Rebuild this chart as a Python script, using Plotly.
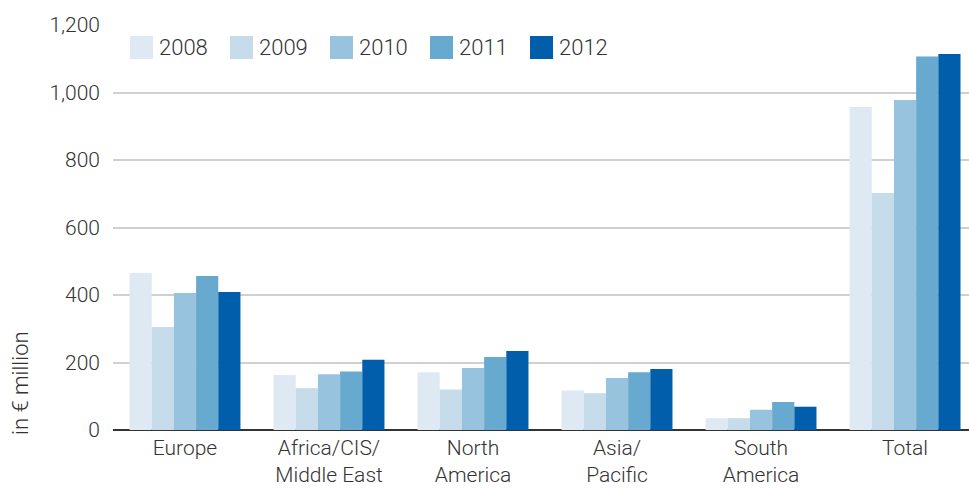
import plotly.graph_objects as go

# Regions on the x axis (line breaks as shown under the bars)
regions = ["Europe", "Africa/CIS/<br>Middle East", "North<br>America",
           "Asia/<br>Pacific", "South<br>America", "Total"]

years = ["2008", "2009", "2010", "2011", "2012"]

# Values in € million, one list per year, in region order
v2008 = [465, 163, 171, 117, 35, 957]
v2009 = [305, 124, 120, 109, 35, 702]
v2010 = [406, 165, 184, 154, 60, 978]
v2011 = [456, 173, 216, 171, 83, 1107]
v2012 = [409, 208, 234, 181, 69, 1114]

colors = ["#dfe9f3", "#c6dcea", "#98c3de", "#68a9cf", "#005eaa"]

y_ticks = [0, 200, 400, 600, 800, 1000, 1200]
y_tick_text = ["0", "200", "400", "600", "800", "1,000", "1,200"]

FONT = "Roboto"
TEXT = "#333333"
SIZE = 21

fig = go.Figure()
for year, vals, col in zip(years, [v2008, v2009, v2010, v2011, v2012], colors):
    fig.add_trace(go.Bar(x=regions, y=vals, name=year, marker_color=col,
                         marker_line_width=0, showlegend=False))

# Legend: square swatches with year labels in a row above the bars
for i, (year, col) in enumerate(zip(years, colors)):
    x0 = 130 + i * 100
    fig.add_shape(type="rect", xref="paper", yref="paper",
                  x0=(x0 - 113) / 856, x1=(x0 + 23 - 113) / 856,
                  y0=(430 - 59) / 405, y1=(430 - 36) / 405,
                  fillcolor=col, line_width=0, layer="above")
    fig.add_annotation(xref="paper", yref="paper",
                       x=(x0 + 27 - 113) / 856, y=(430 - 47.5) / 405,
                       xanchor="left", yanchor="middle", text=year,
                       showarrow=False,
                       font=dict(family=FONT, size=22, color=TEXT, weight=300))

fig.add_annotation(xref="paper", yref="paper", x=(20 - 113) / 856,
                   y=(430 - 383) / 405, text="in € million", textangle=-90,
                   xanchor="center", yanchor="middle", showarrow=False,
                   font=dict(family=FONT, size=22, color=TEXT, weight=300))

fig.update_layout(
    width=969, height=488,
    margin=dict(l=113, r=0, t=25, b=58),
    paper_bgcolor="white", plot_bgcolor="white",
    barmode="group", bargap=0.23, bargroupgap=0,
    font=dict(family=FONT, size=SIZE, color=TEXT, weight=300),
    xaxis=dict(range=[-0.5, 5.444], showgrid=False, showline=False, ticks="",
               ticklabelstandoff=3, automargin=False,
               tickfont=dict(family=FONT, size=SIZE, color=TEXT, weight=300)),
    yaxis=dict(range=[0, 1200], tickvals=y_ticks, ticktext=y_tick_text,
               showgrid=True, gridcolor="#d0d0d0", gridwidth=2,
               zeroline=True, zerolinecolor="#333333", zerolinewidth=2,
               showline=False, ticks="", ticklabelstandoff=12,
               automargin=False,
               tickfont=dict(family=FONT, size=SIZE, color=TEXT, weight=300)),
)

fig.write_html("out.html")
